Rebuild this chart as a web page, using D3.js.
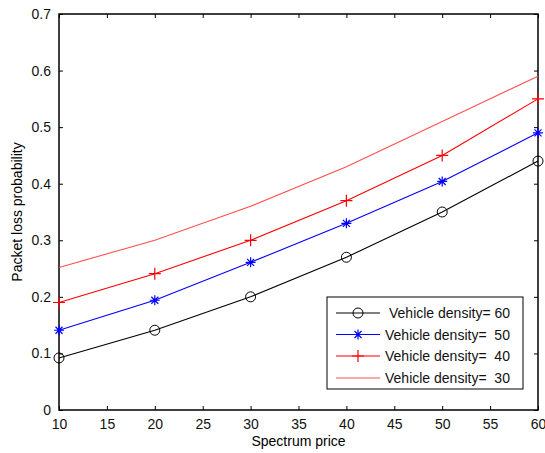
<!DOCTYPE html>
<html><head><meta charset="utf-8">
<script src="https://cdn.jsdelivr.net/npm/d3@7"></script>
<style>body{margin:0;background:#fff;} text{font-family:"Liberation Sans",Arial,sans-serif;}</style>
</head><body><svg id="c" width="545" height="453"></svg>
<script>
const prices = [10, 20, 30, 40, 50, 60];
const density60 = [0.092, 0.141, 0.200, 0.270, 0.350, 0.440];
const density50 = [0.141, 0.194, 0.261, 0.330, 0.404, 0.490];
const density40 = [0.190, 0.241, 0.300, 0.370, 0.450, 0.550];
const density30 = [0.252, 0.300, 0.360, 0.430, 0.510, 0.590];
const seriesNames = ["Vehicle density= 60", "Vehicle density=  50", "Vehicle density=  40", "Vehicle density=  30"];
const xTicks = [10, 15, 20, 25, 30, 35, 40, 45, 50, 55, 60];
const yTicks = [0, 0.1, 0.2, 0.3, 0.4, 0.5, 0.6, 0.7];

const series = [
  {name: seriesNames[0], values: density60, color: "#000000", marker: "circle"},
  {name: seriesNames[1], values: density50, color: "#0000ff", marker: "star"},
  {name: seriesNames[2], values: density40, color: "#ff0000", marker: "plus"},
  {name: seriesNames[3], values: density30, color: "#ff5050", marker: "none"}
];

const svg = d3.select("#c");
const L = 59, R = 538, T = 14, B = 410;
const x = d3.scaleLinear().domain([10, 60]).range([L, R]);
const y = d3.scaleLinear().domain([0, 0.7]).range([B, T]);

// frame
svg.append("rect").attr("x", L).attr("y", T).attr("width", R - L).attr("height", B - T)
  .attr("fill", "none").attr("stroke", "#000").attr("stroke-width", 1.5);

const fs = 14;
const xb = svg.append("g").attr("transform", `translate(0,${B})`)
  .call(d3.axisBottom(x).tickValues(xTicks).tickSize(-4).tickPadding(9).tickFormat(d3.format("d")));
const xt = svg.append("g").attr("transform", `translate(0,${T})`)
  .call(d3.axisTop(x).tickValues(xTicks).tickSize(-4).tickFormat(""));
const yl = svg.append("g").attr("transform", `translate(${L},0)`)
  .call(d3.axisLeft(y).tickValues(yTicks).tickSize(-4).tickPadding(8).tickFormat(d => d === 0 ? "0" : d3.format(".1f")(d)));
const yr = svg.append("g").attr("transform", `translate(${R},0)`)
  .call(d3.axisRight(y).tickValues(yTicks).tickSize(-4).tickFormat(""));
[xb, xt, yl, yr].forEach(g => {
  g.select(".domain").remove();
  g.selectAll("line").attr("stroke", "#000");
  g.selectAll("text").attr("font-size", fs).attr("fill", "#111").style("font-family", "'Liberation Sans',Arial,sans-serif");
});

svg.append("text").attr("x", (L + R) / 2).attr("y", 446).attr("text-anchor", "middle")
  .attr("font-size", 14).text("Spectrum price");
svg.append("text").attr("transform", `translate(22,${(T + B) / 2}) rotate(-90)`).attr("text-anchor", "middle")
  .attr("font-size", 14).text("Packet loss probability");

const line = d3.line().x((d, i) => x(prices[i])).y(d => y(d));

function drawMarker(g, type, cx, cy, color) {
  if (type === "circle") {
    g.append("circle").attr("cx", cx).attr("cy", cy).attr("r", 5).attr("fill", "none").attr("stroke", color).attr("stroke-width", 1);
  } else if (type === "star") {
    const s = 5;
    const p = `M${cx - s},${cy}H${cx + s}M${cx},${cy - s}V${cy + s}M${cx - s * 0.7},${cy - s * 0.7}L${cx + s * 0.7},${cy + s * 0.7}M${cx - s * 0.7},${cy + s * 0.7}L${cx + s * 0.7},${cy - s * 0.7}`;
    g.append("path").attr("d", p).attr("stroke", color).attr("stroke-width", 1.2).attr("fill", "none");
  } else if (type === "plus") {
    const s = 6;
    g.append("path").attr("d", `M${cx - s},${cy}H${cx + s}M${cx},${cy - s}V${cy + s}`).attr("stroke", color).attr("stroke-width", 1.2);
  }
}

const plot = svg.append("g");
series.slice().reverse().forEach(s => {
  plot.append("path").datum(s.values).attr("d", line).attr("fill", "none").attr("stroke", s.color).attr("stroke-width", 1.1);
  s.values.forEach((v, i) => drawMarker(plot, s.marker, x(prices[i]), y(v), s.color));
});

// legend
const lg = svg.append("g");
lg.append("rect").attr("x", 327).attr("y", 297).attr("width", 196).attr("height", 92)
  .attr("fill", "#fff").attr("stroke", "#000").attr("stroke-width", 1);
const rowY = [313, 334.5, 356, 378];
series.forEach((s, i) => {
  lg.append("line").attr("x1", 336).attr("x2", 380).attr("y1", rowY[i]).attr("y2", rowY[i]).attr("stroke", s.color).attr("stroke-width", 1.1);
  drawMarker(lg, s.marker, 358, rowY[i], s.color);
  lg.append("text").attr("x", i === 0 ? 389 : 385).attr("y", rowY[i] + 5).attr("font-size", 14)
    .attr("fill", "#111").style("white-space", "pre").text(s.name);
});
</script></body></html>
